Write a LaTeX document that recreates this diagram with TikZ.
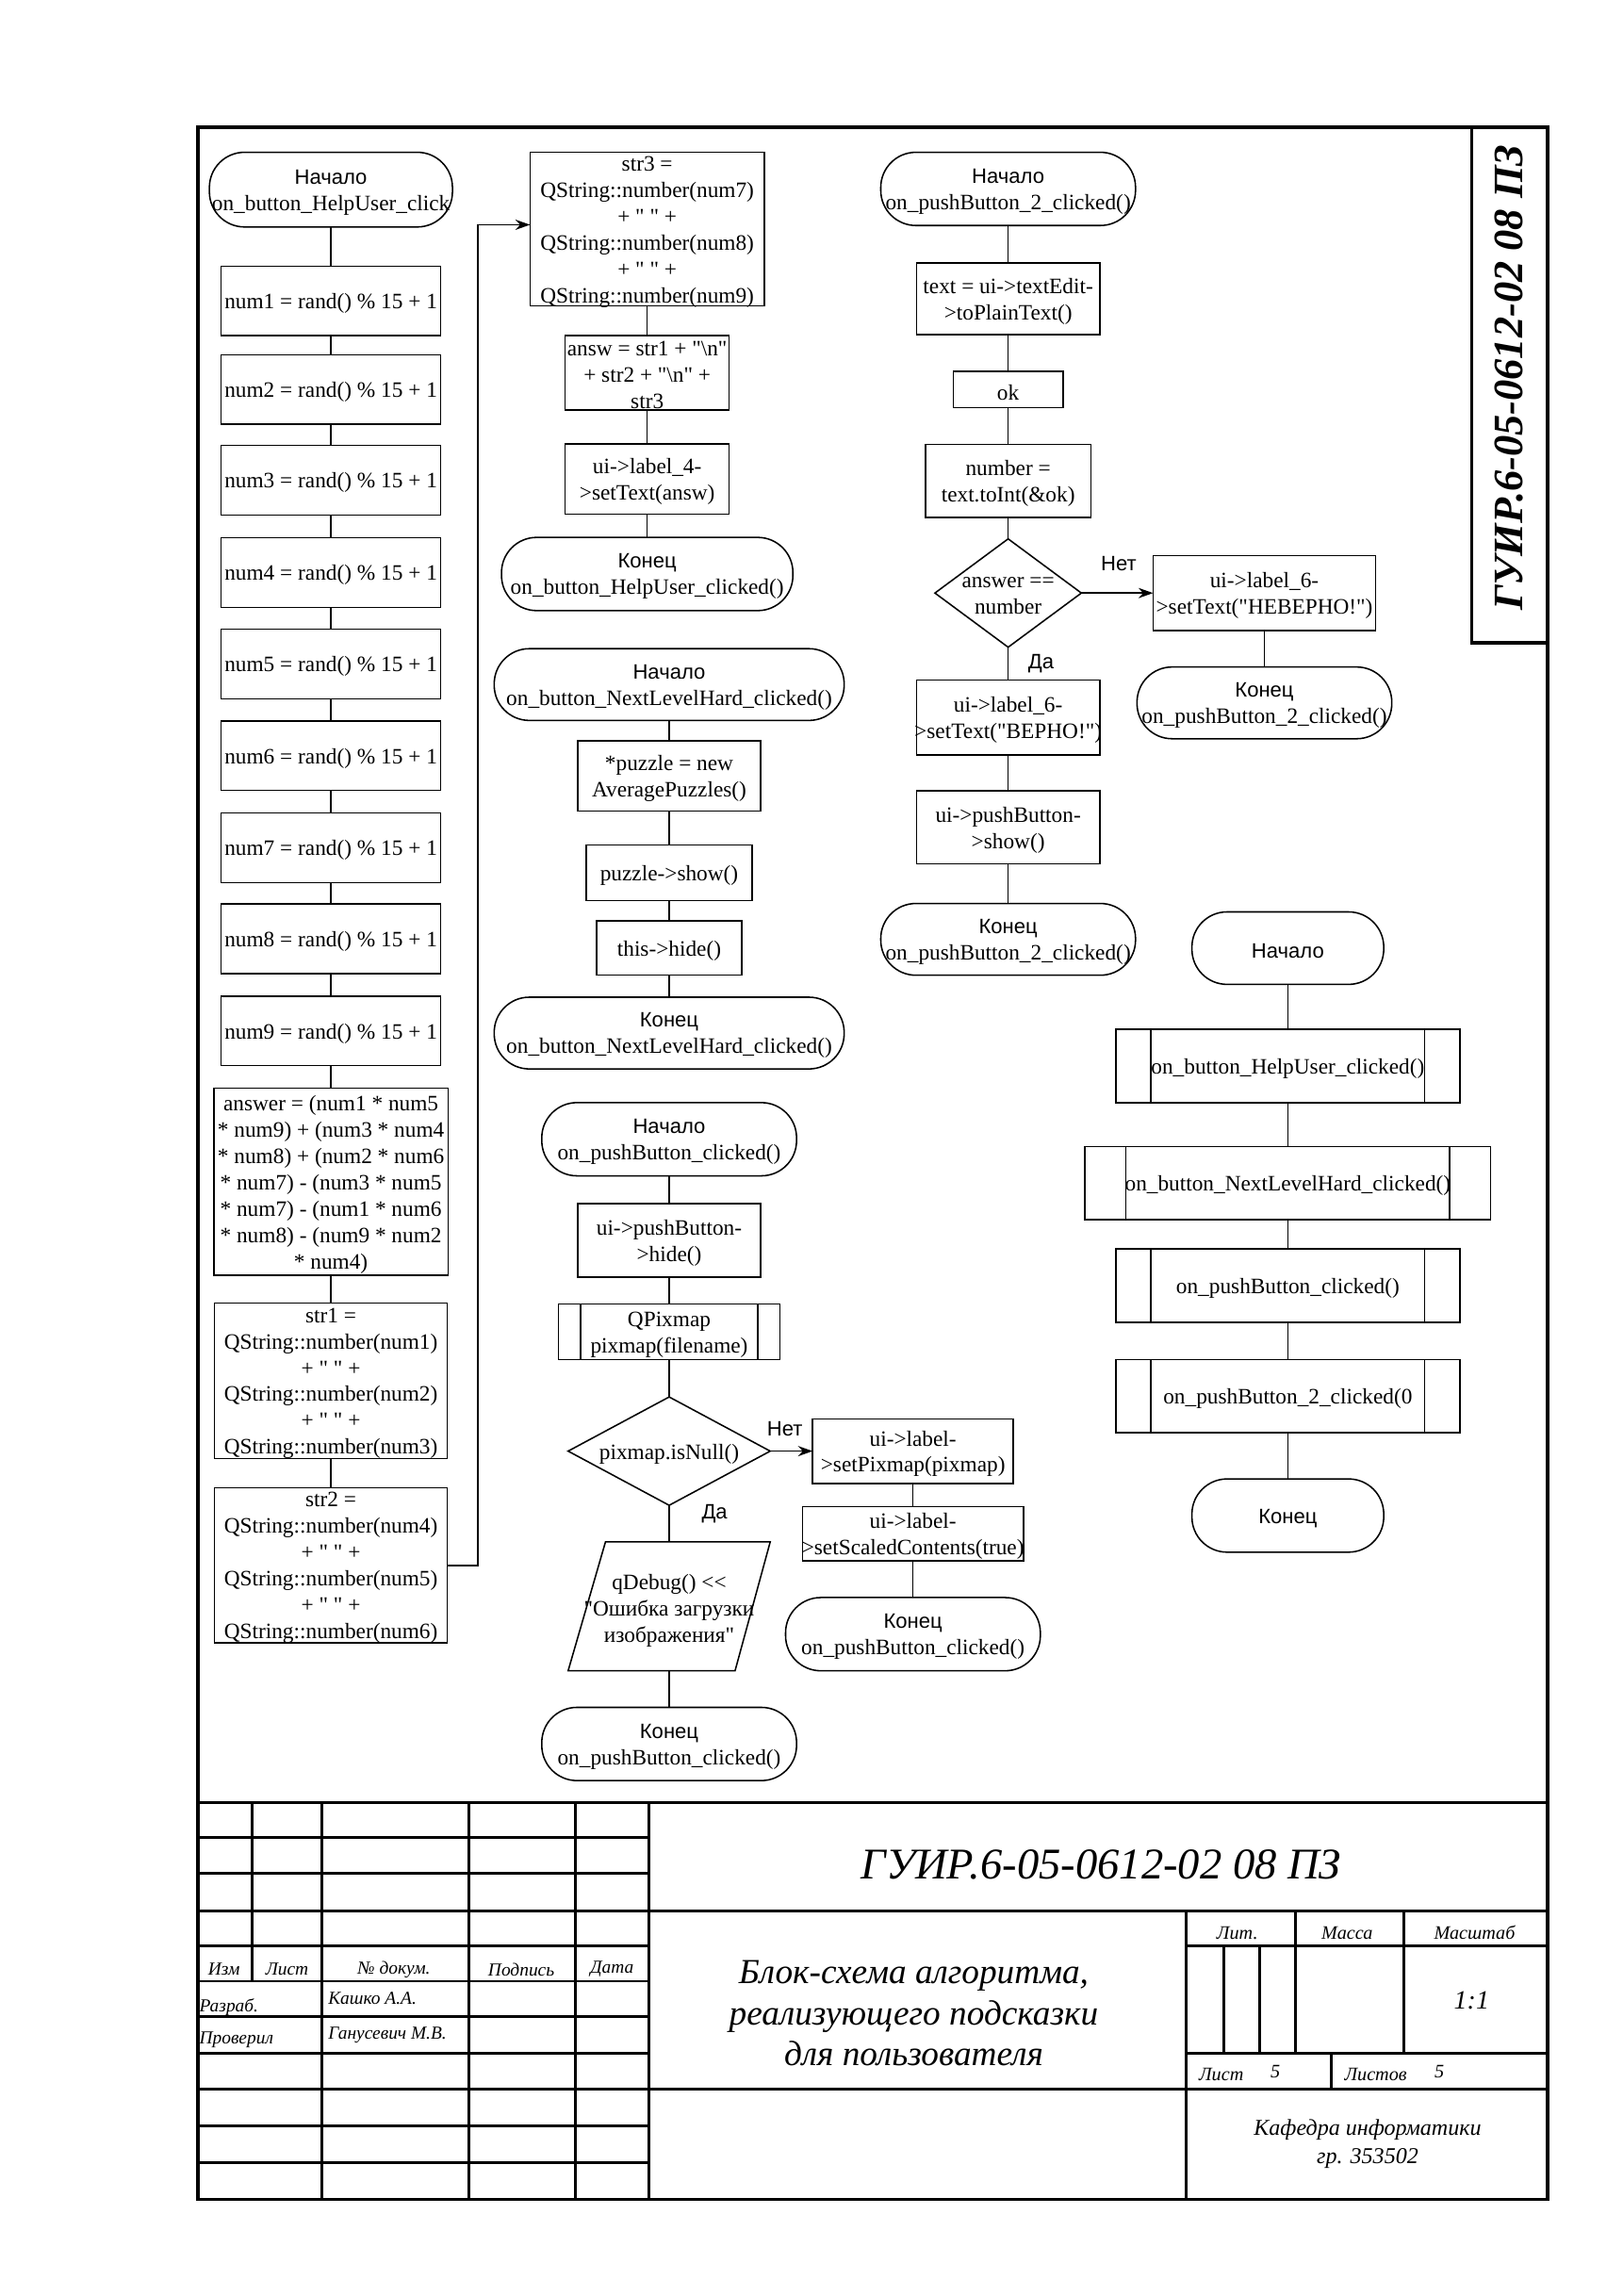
\documentclass[tikz,border=0pt]{standalone}
\usepackage{fontspec}
\usepackage{graphicx}
\newfontfamily\rmf{Liberation Serif}
\newfontfamily\sansf{Liberation Sans}
\usetikzlibrary{shapes.geometric,arrows.meta}
\newcommand{\fbx}[6]{%
  \node[#1,minimum width=#4pt,minimum height=#5pt] (#2) at (#3) {};
  \node[txt] (#2-t) at ([yshift=-1.8pt]#2.center) {#6};}
\newcommand{\ns}[1]{{\sansf\fontsize{14.2}{18}\selectfont #1}}
\tikzset{
  shp/.style={draw, line width=1pt, inner sep=0pt, outer sep=0pt},
  proc/.style={shp, rectangle},
  term/.style={shp, rectangle, rounded corners=24pt},
  dec/.style={shp, diamond},
  subr/.style={proc, path picture={\draw[line width=1pt]
      ([xshift=#1]path picture bounding box.north west) -- ([xshift=#1]path picture bounding box.south west)
      ([xshift=-#1]path picture bounding box.north east) -- ([xshift=-#1]path picture bounding box.south east);}},
  txt/.style={inner sep=0pt, align=center, font=\rmf\fontsize{15}{18}\selectfont},
  conn/.style={line width=1pt},
  arr/.style={conn, -{Stealth[length=10pt,width=7pt]}},
  lab/.style={inner sep=0pt, font=\sansf\fontsize{14.2}{18}\selectfont},
  frame/.style={line width=2.3pt},
  tbl/.style={line width=1.9pt},
  tbt/.style={inner sep=0pt, font=\rmf\itshape\fontsize{12.5}{14}\selectfont},
  tbr/.style={inner sep=0pt, font=\rmf\itshape\fontsize{13}{15}\selectfont},
}
\begin{document}
\begin{tikzpicture}[x=1pt,y=-1pt]
\useasboundingbox (0,0) rectangle (1108,1568);
\fill[white] (0,0) rectangle (1108,1568);
% frame
\draw[frame] (135,87) rectangle (1057,1502);
\draw[frame] (1005,87) -- (1005,439) -- (1057,439);
\node[rotate=90, inner sep=0pt] (side) at (1030.5,258) {\resizebox{318pt}{!}{\rmf\bfseries\itshape\fontsize{26}{26}\selectfont ГУИР.6-05-0612-02 08 ПЗ}};

% column 1
\fbx{term}{st1}{226,129.5}{166}{51}{\ns{Начало}\\on\_button\_HelpUser\_click}
\fbx{proc}{n1}{226,205.5}{150}{47.5}{num1 = rand() \% 15 + 1}
\fbx{proc}{n2}{226,266}{150}{47.5}{num2 = rand() \% 15 + 1}
\fbx{proc}{n3}{226,328}{150}{47.5}{num3 = rand() \% 15 + 1}
\fbx{proc}{n4}{226,391}{150}{47.5}{num4 = rand() \% 15 + 1}
\fbx{proc}{n5}{226,453.5}{150}{47.5}{num5 = rand() \% 15 + 1}
\fbx{proc}{n6}{226,516}{150}{47.5}{num6 = rand() \% 15 + 1}
\fbx{proc}{n7}{226,579}{150}{47.5}{num7 = rand() \% 15 + 1}
\fbx{proc}{n8}{226,641}{150}{47.5}{num8 = rand() \% 15 + 1}
\fbx{proc}{n9}{226,704}{150}{47.5}{num9 = rand() \% 15 + 1}
\fbx{proc}{ans}{226,807}{160}{128}{answer = (num1 * num5\\* num9) + (num3 * num4\\* num8) + (num2 * num6\\* num7) - (num3 * num5\\* num7) - (num1 * num6\\* num8) - (num9 * num2\\* num4)}
\fbx{proc}{s1}{226,943}{159}{106}{str1 =\\QString::number(num1)\\+ " " +\\QString::number(num2)\\+ " " +\\QString::number(num3)}
\fbx{proc}{s2}{226,1069}{159}{106}{str2 =\\QString::number(num4)\\+ " " +\\QString::number(num5)\\+ " " +\\QString::number(num6)}
\draw[conn] (st1.south) -- (n1.north) (n1.south) -- (n2.north) (n2.south) -- (n3.north)
  (n3.south) -- (n4.north) (n4.south) -- (n5.north) (n5.south) -- (n6.north)
  (n6.south) -- (n7.north) (n7.south) -- (n8.north) (n8.south) -- (n9.north)
  (n9.south) -- (ans.north) (ans.south) -- (s1.north) (s1.south) -- (s2.north);

% column 2 top
\fbx{proc}{s3}{442,156.5}{160}{105}{str3 =\\QString::number(num7)\\+ " " +\\QString::number(num8)\\+ " " +\\QString::number(num9)}
\fbx{proc}{answ}{442,254.5}{112}{51}{answ = str1 + "\textbackslash n"\\+ str2 + "\textbackslash n" +\\str3}
\fbx{proc}{lbl4}{442,327}{112}{48}{ui->label\_4-\\>setText(answ)}
\fbx{term}{en1}{442,392}{199}{50}{\ns{Конец}\\on\_button\_HelpUser\_clicked()}
\draw[conn] (s3.south) -- (answ.north) (answ.south) -- (lbl4.north) (lbl4.south) -- (en1.north);
\draw[arr] (s2.east) -- ++(21,0) |- ([yshift=3pt]s3.west);

% column 2 middle
\fbx{term}{st2}{457,467.5}{239}{49}{\ns{Начало}\\on\_button\_NextLevelHard\_clicked()}
\fbx{proc}{puz}{457,530}{125}{48}{*puzzle = new\\AveragePuzzles()}
\fbx{proc}{pshow}{457,596}{113}{38}{puzzle->show()}
\fbx{proc}{thide}{457,647.5}{99}{37}{this->hide()}
\fbx{term}{en2}{457,705.5}{239}{49}{\ns{Конец}\\on\_button\_NextLevelHard\_clicked()}
\draw[conn] (st2.south) -- (puz.north) (puz.south) -- (pshow.north) (pshow.south) -- (thide.north) (thide.south) -- (en2.north);

% column 2 bottom
\fbx{term}{st3}{457,778}{174}{50}{\ns{Начало}\\on\_pushButton\_clicked()}
\fbx{proc}{pbh}{457,847}{125}{50}{ui->pushButton-\\>hide()}
\fbx{subr=15pt}{qpx}{457,909.5}{151}{38}{QPixmap\\pixmap(filename)}
\fbx{dec}{d1}{457,991}{138}{74}{pixmap.isNull()}
\node[inner sep=0pt, minimum width=100pt, minimum height=88pt] (dbg) at (457,1097) {};
\draw[conn] (388,1141) -- (413.5,1053) -- (526,1053) -- (502,1141) -- cycle;
\node[txt] (dbg-t) at (457,1100) {qDebug() <{}<\\"Ошибка загрузки\\изображения"};
\fbx{term}{en3}{457,1191}{174}{50}{\ns{Конец}\\on\_pushButton\_clicked()}
\fbx{proc}{lp1}{623.5,991}{137}{44}{ui->label-\\>setPixmap(pixmap)}
\fbx{proc}{lp2}{623.5,1047.5}{151}{37}{ui->label-\\>setScaledContents(true)}
\fbx{term}{en4}{623.5,1116}{174}{50}{\ns{Конец}\\on\_pushButton\_clicked()}
\draw[conn] (st3.south) -- (pbh.north) (pbh.south) -- (qpx.north) (qpx.south) -- (d1.north)
  (d1.south) -- (dbg.north) (dbg.south) -- (en3.north)
  (lp1.south) -- (lp2.north) (lp2.south) -- (en4.north);
\draw[arr] (d1.east) -- (lp1.west);
\node[lab] (l1) at (536,976) {Нет};
\node[lab] (l2) at (488,1034) {Да};

% column 3
\fbx{term}{st4}{688.5,129}{174}{50}{\ns{Начало}\\on\_pushButton\_2\_clicked()}
\fbx{proc}{txe}{688.5,204}{125}{49}{text = ui->textEdit-\\>toPlainText()}
\fbx{proc}{okb}{688.5,266}{75}{25}{ok}
\fbx{proc}{numb}{688.5,328.5}{113}{50}{number =\\text.toInt(\&ok)}
\fbx{dec}{d2}{688.5,405}{100}{74}{answer ==\\number}
\fbx{proc}{nev}{863.5,405}{152}{51}{ui->label\_6-\\>setText("НЕВЕРНО!")}
\fbx{term}{en5}{863.5,480}{174}{49}{\ns{Конец}\\on\_pushButton\_2\_clicked()}
\fbx{proc}{ver}{688.5,490}{125}{51}{ui->label\_6-\\>setText("ВЕРНО!")}
\fbx{proc}{psh}{688.5,565}{125}{50}{ui->pushButton-\\>show()}
\fbx{term}{en6}{688.5,641.5}{174}{49}{\ns{Конец}\\on\_pushButton\_2\_clicked()}
\draw[conn] (st4.south) -- (txe.north) (txe.south) -- (okb.north) (okb.south) -- (numb.north)
  (numb.south) -- (d2.north) (d2.south) -- (ver.north) (ver.south) -- (psh.north)
  (psh.south) -- (en6.north) (nev.south) -- (en5.north);
\draw[arr] (d2.east) -- (nev.west);
\node[lab] (l3) at (764,385) {Нет};
\node[lab] (l4) at (711,453) {Да};

% column 4
\fbx{term}{st5}{879.5,647.5}{131}{49.5}{\ns{Начало}}
\fbx{subr=24pt}{sb1}{879.5,728}{235}{50}{on\_button\_HelpUser\_clicked()}
\fbx{subr=28pt}{sb2}{879.5,808}{277}{50}{on\_button\_NextLevelHard\_clicked()}
\fbx{subr=24pt}{sb3}{879.5,878}{235}{50}{on\_pushButton\_clicked()}
\fbx{subr=24pt}{sb4}{879.5,953.5}{235}{50}{on\_pushButton\_2\_clicked(0}
\fbx{term}{en7}{879.5,1035}{131}{50}{\ns{Конец}}
\draw[conn] (st5.south) -- (sb1.north) (sb1.south) -- (sb2.north) (sb2.south) -- (sb3.north)
  (sb3.south) -- (sb4.north) (sb4.south) -- (en7.north);

% title block
\draw[tbl] (135,1231) -- (1057,1231) (135,1305) -- (1057,1305) (135,1427) -- (1057,1427);
\foreach \yy in {1255,1279,1329,1353,1377,1402,1452,1477} {\draw[tbl] (135,\yy) -- (443,\yy);}
\draw[tbl] (810,1329) -- (1057,1329) (810,1402) -- (1057,1402);
\draw[tbl] (172,1231) -- (172,1353);
\foreach \xx in {220,320,393,443} {\draw[tbl] (\xx,1231) -- (\xx,1502);}
\draw[tbl] (810,1305) -- (810,1502) (836,1329) -- (836,1402) (860,1329) -- (860,1402)
  (885,1305) -- (885,1402) (959,1305) -- (959,1402) (909,1402) -- (909,1427);

\node[inner sep=0pt] (tbtitle) at (752,1273.5) {\resizebox{328pt}{!}{\rmf\itshape\fontsize{30}{30}\selectfont ГУИР.6-05-0612-02 08 ПЗ}};
\node[inner sep=0pt, align=center, font=\rmf\itshape\fontsize{24}{28}\selectfont] (tbname) at (624,1375) {Блок-схема алгоритма,\\реализующего подсказки\\для пользователя};
\node[tbt] (t1) at (153,1345) {Изм};
\node[tbt] (t2) at (196,1345) {Лист};
\node[tbt] (t3) at (269,1345) {№ докум.};
\node[tbt] (t4) at (356,1345) {Подпись};
\node[tbt] (t5) at (418,1345) {Дата};
\node[tbt, anchor=west] (t6) at (136,1371) {Разраб.};
\node[tbt, anchor=west] (t7) at (224,1365) {Кашко А.А.};
\node[tbt, anchor=west] (t8) at (136,1393) {Проверил};
\node[tbt, anchor=west] (t9) at (224,1390) {Ганусевич М.В.};
\node[tbr] (r1) at (845,1320) {Лит.};
\node[tbr] (r2) at (920,1320) {Масса};
\node[tbr] (r3) at (1007,1320) {Масштаб};
\node[inner sep=0pt, font=\rmf\itshape\fontsize{18}{20}\selectfont] (r4) at (1005,1366) {1:1};
\node[tbr] (r5) at (834,1417) {Лист};
\node[tbr] (r6) at (871,1415) {5};
\node[tbr] (r7) at (939.5,1417) {Листов};
\node[tbr] (r8) at (983,1415) {5};
\node[inner sep=0pt, align=center, font=\rmf\itshape\fontsize{15.5}{19.5}\selectfont] (r9) at (934,1464) {Кафедра информатики\\гр. 353502};
\end{tikzpicture}
\end{document}
